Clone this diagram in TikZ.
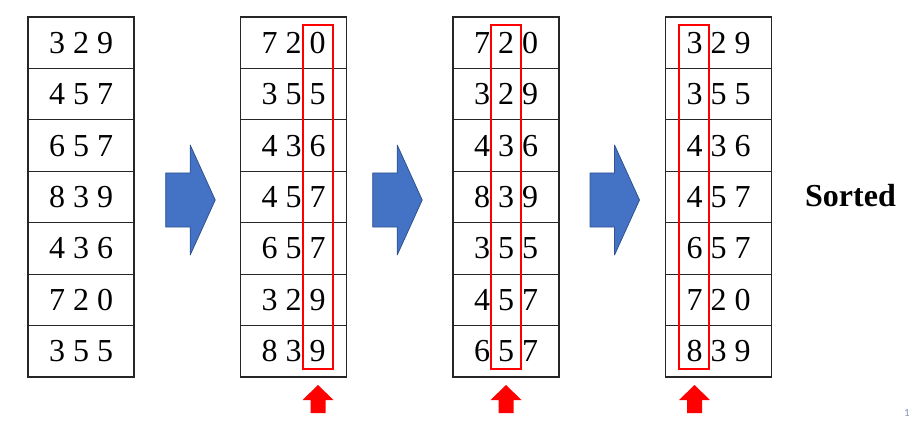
\documentclass[tikz,border=0pt]{standalone}
\usepackage{fontspec}
\setmainfont{Liberation Serif}
\newfontfamily\slidenumfont{Carlito}
\usetikzlibrary{positioning}
\definecolor{arrowblue}{HTML}{4472C4}
\definecolor{arrowedge}{HTML}{2F528F}
\definecolor{slidegray}{HTML}{8497B0}

\begin{document}
\begin{tikzpicture}[x=1pt, y=-1pt,
    digits/.style={font=\fontsize{32}{32}\selectfont, inner sep=0pt},
    grid/.style={line width=1.2pt, draw=black!85},
    pass/.style={draw=red, line width=2.8pt},
    bigarrow/.style={fill=arrowblue, draw=arrowedge, line width=0.8pt, line join=round}]
    \useasboundingbox (0,0) rectangle (912,422);

    % the four tables
    \foreach \x in {28, 240.5, 453, 665.5} {
        \draw [grid] (\x, 17) rectangle (\x+106, 377);
        \foreach \r in {1,...,6}
            \draw [grid] (\x, 17+\r*51.43) -- (\x+106, 17+\r*51.43);
    }

    % numbers, one row at a time
    \foreach \y/\a/\b/\c/\d [count=\r] in {
        42.7/3 2 9/7 2 0/7 2 0/3 2 9,
        94.1/4 5 7/3 5 5/3 2 9/3 5 5,
        145.6/6 5 7/4 3 6/4 3 6/4 3 6,
        197/8 3 9/4 5 7/8 3 9/4 5 7,
        248.4/4 3 6/6 5 7/3 5 5/6 5 7,
        299.9/7 2 0/3 2 9/4 5 7/7 2 0,
        351.3/3 5 5/8 3 9/6 5 7/8 3 9} {
        \node [digits] (in\r) at (81, \y) {\a};
        \node [digits] (first\r) at (293.5, \y) {\b};
        \node [digits] (second\r) at (506, \y) {\c};
        \node [digits] (third\r) at (718.5, \y) {\d};
    }

    % digit being sorted on
    \draw [pass] (303, 25) rectangle (333, 369);
    \draw [pass] (491, 25) rectangle (521, 369);
    \draw [pass] (679, 25) rectangle (709, 369);

    \foreach \cx in {318, 506, 694.5}
        \fill [red] (\cx, 385) -- (\cx+15.5, 400) -- (\cx+7.5, 400) -- (\cx+7.5, 413)
            -- (\cx-7.5, 413) -- (\cx-7.5, 400) -- (\cx-15.5, 400) -- cycle;

    % passes
    \foreach \l in {165.7, 372.7, 590}
        \draw [bigarrow] (\l, 173) -- (\l+24.5, 173) -- (\l+24.5, 145) -- (\l+49.5, 200)
            -- (\l+24.5, 255) -- (\l+24.5, 227) -- (\l, 227) -- cycle;

    \node [font=\bfseries\fontsize{32}{32}\selectfont, inner sep=0pt, anchor=base] (sorted) at (850.5, 206.7) {Sorted};
    \node [font=\slidenumfont\fontsize{11}{11}\selectfont, text=slidegray, inner sep=0pt] (slidenum) at (907, 413) {1};
\end{tikzpicture}
\end{document}
